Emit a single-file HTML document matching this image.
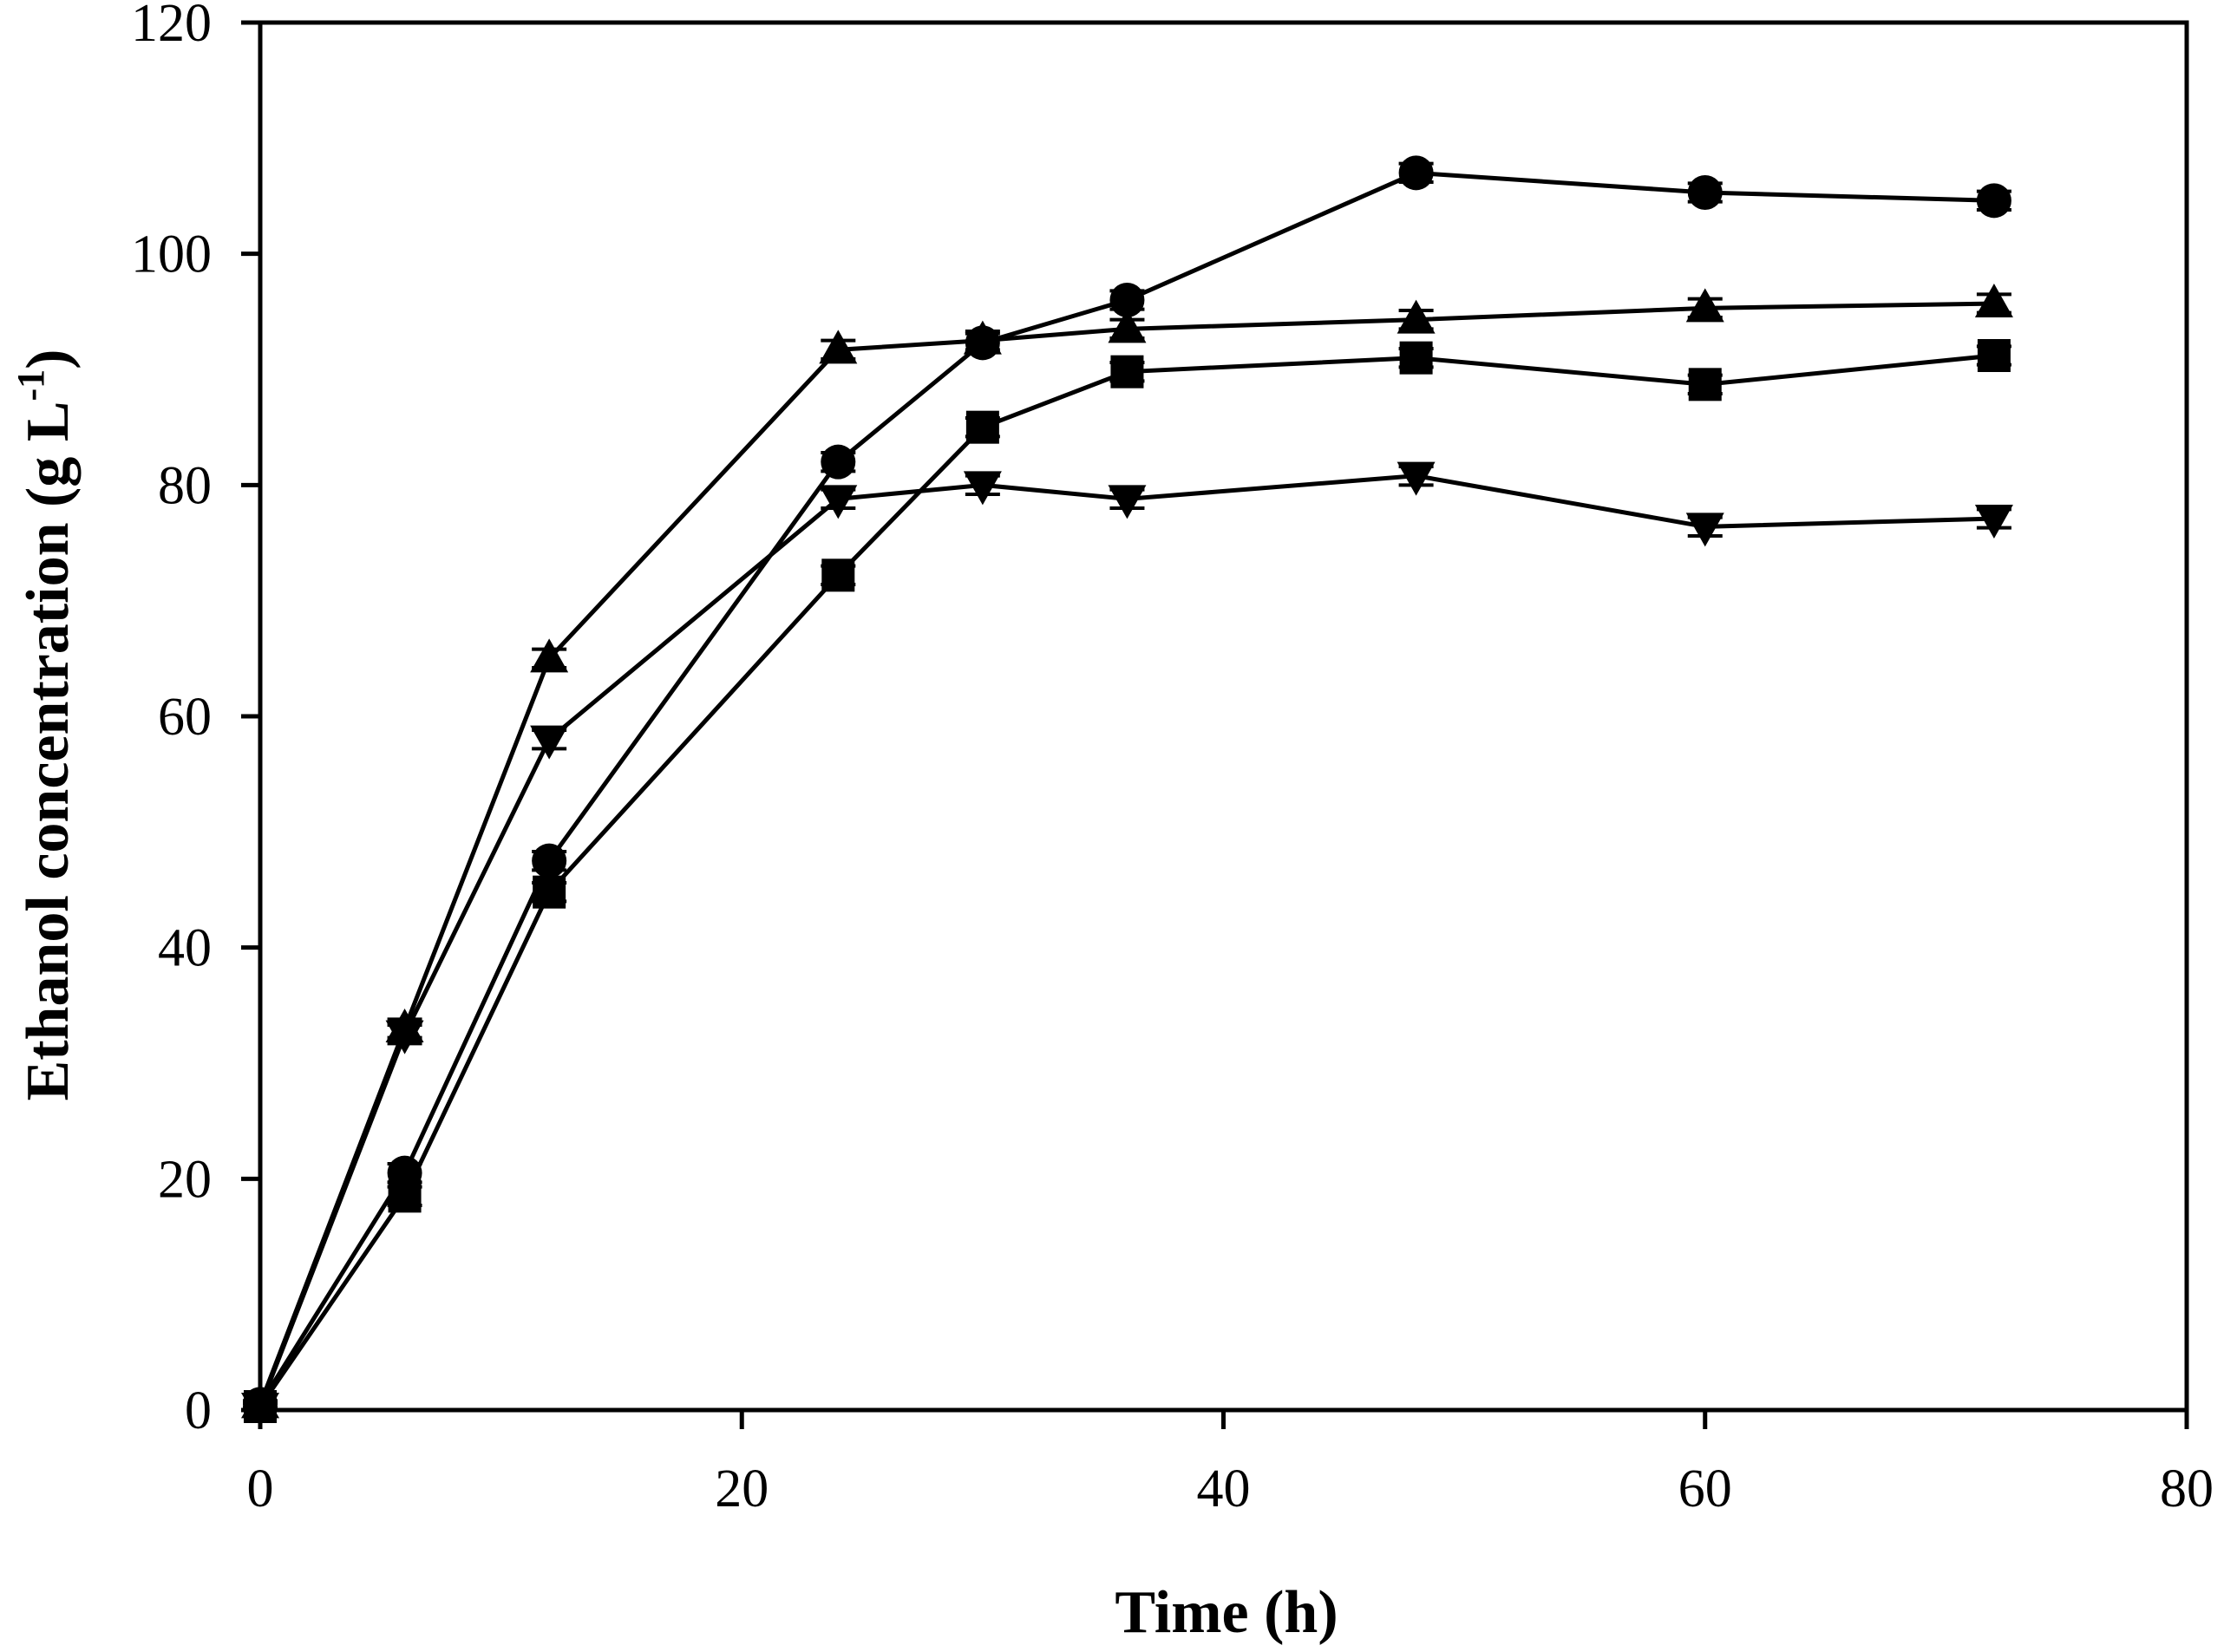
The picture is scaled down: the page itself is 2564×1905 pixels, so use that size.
<!DOCTYPE html>
<html><head><meta charset="utf-8"><style>
html,body{margin:0;padding:0;background:#fff}
svg{display:block}
text{font-family:"Liberation Serif",serif;fill:#000}
</style></head><body>
<svg id="chart" width="2564" height="1905" viewBox="0 0 2564 1905" xmlns="http://www.w3.org/2000/svg">
<g id="axes"></g>
<g id="series"></g>
<text x="1414" y="1882" font-size="70" font-weight="bold" text-anchor="middle">Time (h)</text>
<text transform="translate(78,836) rotate(-90)" font-size="70" font-weight="bold" text-anchor="middle">Ethanol concentration (g L<tspan font-size="44" dy="-28">-1</tspan><tspan dy="28">)</tspan></text>
</svg>
<script>
const times = [0, 6, 12, 24, 30, 36, 48, 60, 72];
const circleSeries = [0.5, 20.5, 47.5, 82, 92.3, 96, 107, 105.3, 104.6];
const triUpSeries = [0.5, 33, 65, 91.7, 92.5, 93.5, 94.3, 95.3, 95.7];
const squareSeries = [0.3, 18.5, 44.8, 72.2, 85, 89.8, 91, 88.7, 91.2];
const triDownSeries = [0.3, 32.5, 58, 78.8, 80, 78.8, 80.8, 76.4, 77.1];
const errorValue = [0.3, 0.8, 0.8, 0.8, 0.8, 0.8, 0.8, 0.8, 0.8];
const xTicks = [0, 20, 40, 60, 80];
const yTicks = [0, 20, 40, 60, 80, 100, 120];

const X0 = 300, X1 = 2521, Y0 = 1626, Y1 = 26;
const xs = v => X0 + (v / 80) * (X1 - X0);
const ys = v => Y0 - (v / 120) * (Y0 - Y1);
const NS = 'http://www.w3.org/2000/svg';
function mk(tag, attrs, parent) {
  const e = document.createElementNS(NS, tag);
  for (const k in attrs) e.setAttribute(k, attrs[k]);
  parent.appendChild(e);
  return e;
}
const axes = document.getElementById('axes');
const frame = mk('rect', {x: X0, y: Y1, width: X1 - X0, height: Y0 - Y1, fill: 'none', stroke: '#000', 'stroke-width': 5}, axes);


xTicks.forEach(t => {
  const tk = mk('line', {x1: xs(t), x2: xs(t), y1: Y0, y2: Y0 + 22, stroke: '#000', 'stroke-width': 5}, axes);
  
  
  const lb = mk('text', {x: xs(t), y: Y0 + 111, 'font-size': 62, 'text-anchor': 'middle'}, axes);
  lb.textContent = t;
  
  
});
yTicks.forEach(t => {
  const tk = mk('line', {x1: X0 - 22, x2: X0, y1: ys(t), y2: ys(t), stroke: '#000', 'stroke-width': 5}, axes);
  
  
  const lb = mk('text', {x: X0 - 56, y: ys(t) + 21, 'font-size': 62, 'text-anchor': 'end'}, axes);
  lb.textContent = t;
  
  
});
const sg = document.getElementById('series');
function marker(shape, cx, cy, g) {
  let m;
  if (shape === 'circle') m = mk('circle', {cx, cy, r: 20}, g);
  else if (shape === 'square') m = mk('rect', {x: cx - 19, y: cy - 19, width: 38, height: 38}, g);
  else if (shape === 'up') m = mk('polygon', {points: `${cx},${cy - 23} ${cx - 22},${cy + 16} ${cx + 22},${cy + 16}`}, g);
  else m = mk('polygon', {points: `${cx},${cy + 23} ${cx - 22},${cy - 16} ${cx + 22},${cy - 16}`}, g);
  m.setAttribute('fill', '#000');
  return m;
}
function drawSeries(vals, shape, name) {
  const g = mk('g', {}, sg);
  
  
  const pts = vals.map((v, i) => `${xs(times[i])},${ys(v)}`).join(' ');
  const ln = mk('polyline', {points: pts, fill: 'none', stroke: '#000', 'stroke-width': 5}, g);
  
  
  vals.forEach((v, i) => {
    const cx = xs(times[i]), e = errorValue[i];
    const eb = mk('path', {d: `M${cx},${ys(v + e)}V${ys(v - e)}M${cx - 20},${ys(v + e)}H${cx + 20}M${cx - 20},${ys(v - e)}H${cx + 20}`, stroke: '#000', 'stroke-width': 4, fill: 'none'}, g);
    
    
    const m = marker(shape, cx, ys(v), g);
    
    
  });
}
drawSeries(squareSeries, 'square', 'square-series');
drawSeries(triDownSeries, 'down', 'triangle-down-series');
drawSeries(triUpSeries, 'up', 'triangle-up-series');
drawSeries(circleSeries, 'circle', 'circle-series');
</script>
</body></html>
